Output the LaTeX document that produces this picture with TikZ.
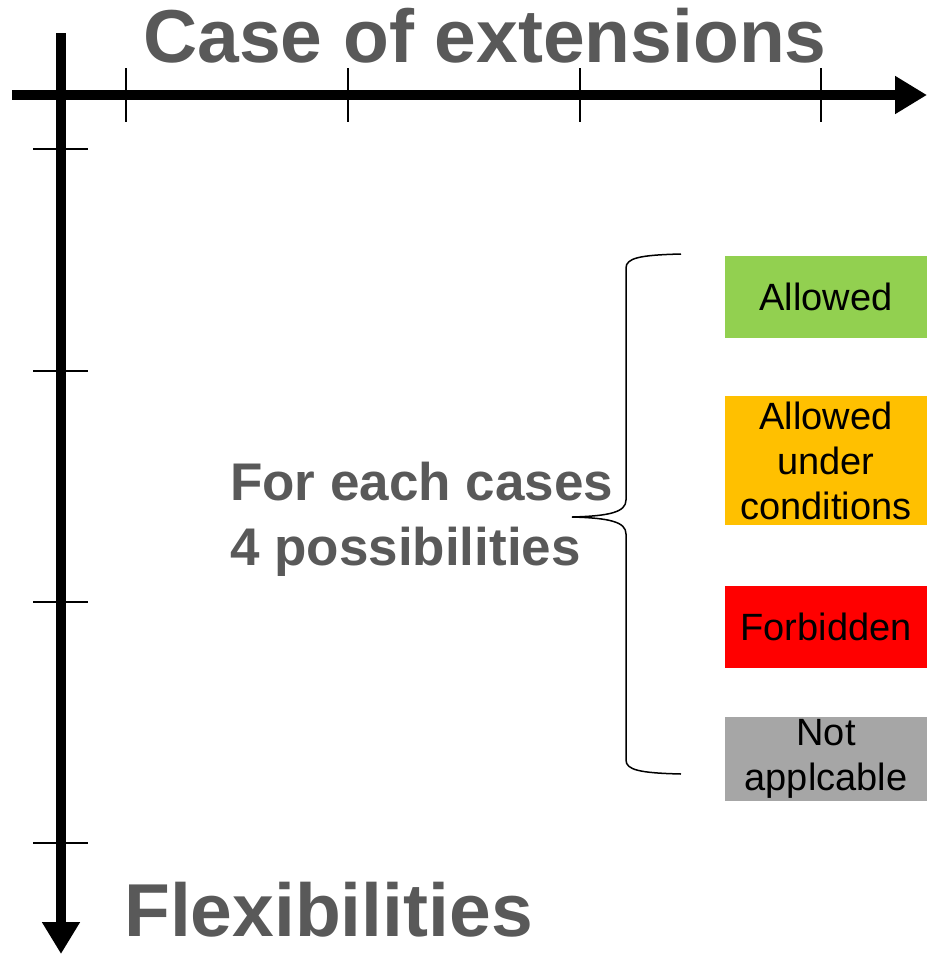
\documentclass[tikz,border=0pt]{standalone}
\usepackage{fontspec}
\setmainfont{Liberation Sans}
\usetikzlibrary{arrows.meta, positioning}
\definecolor{txtgray}{HTML}{595959}
\definecolor{okgreen}{HTML}{92D050}
\definecolor{condorange}{HTML}{FFC000}
\definecolor{nogray}{HTML}{A6A6A6}
\tikzstyle{axis} = [line width=10pt, -{Triangle[length=32pt,width=36pt]}]
\tikzstyle{tick} = [line width=1.3pt]
\tikzstyle{heading} = [inner sep=0pt, text=txtgray, font=\fontsize{75}{80}\selectfont\bfseries]

\begin{document}
\begin{tikzpicture}[x=1pt, y=-1pt]
                    % Define styles for boxes and brace
                    \tikzstyle{choice} = [rectangle, minimum width=202pt, inner sep=0pt, align=center, text=black, font=\fontsize{38}{45}\selectfont]
                    \tikzstyle{brace} = [line width=1.5pt]
                    \useasboundingbox (0,0) rectangle (927,954);

                    % Axes
                    \coordinate (x_start) at (12,95);
                    \coordinate (x_end) at (927,95);
                    \coordinate (y_start) at (61,33);
                    \coordinate (y_end) at (61,954);
                    \draw [axis] (x_start) -- (x_end);
                    \draw [axis] (y_start) -- (y_end);
                    \draw [tick] (126,68) -- (126,122);
                    \draw [tick] (348,68) -- (348,122);
                    \draw [tick] (580,68) -- (580,122);
                    \draw [tick] (821,68) -- (821,122);
                    \draw [tick] (33,149) -- (88,149);
                    \draw [tick] (33,371) -- (88,371);
                    \draw [tick] (33,602) -- (88,602);
                    \draw [tick] (33,843) -- (88,843);

                    % Place nodes
                    \node [heading, anchor=base] (cases_title) at (485,62) {Case of extensions};
                    \node [heading, anchor=base west] (flex_title) at (124,936) {Flexibilities};
                    \node [heading, anchor=west, align=left, font=\fontsize{53}{65}\selectfont\bfseries] (each_case) at (230,519) {For each cases\\4 possibilities};
                    \node [choice, fill=okgreen, minimum height=82pt] (allowed) at (826,297) {Allowed};
                    \node [choice, fill=condorange, minimum height=129pt, below=58pt of allowed] (allowed_cond) {Allowed\\under\\conditions};
                    \node [choice, fill=red, minimum height=82pt, below=60pt of allowed_cond] (forbidden) {Forbidden};
                    \node [choice, fill=nogray, minimum height=84pt, below=49pt of forbidden] (not_appl) {Not\\applcable};

                    % Draw brace
                    \coordinate (brace_top) at (681,254);
                    \coordinate (brace_tip) at (572,517);
                    \coordinate (brace_bot) at (681,774);
                    \draw [brace] (brace_top) .. controls (640,255) and (626,258) .. (626,268)
                        -- (626,500) .. controls (626,512) and (610,516) .. (brace_tip)
                        .. controls (610,518) and (626,522) .. (626,534)
                        -- (626,760) .. controls (626,770) and (640,773) .. (brace_bot);
                \end{tikzpicture}
\end{document}
